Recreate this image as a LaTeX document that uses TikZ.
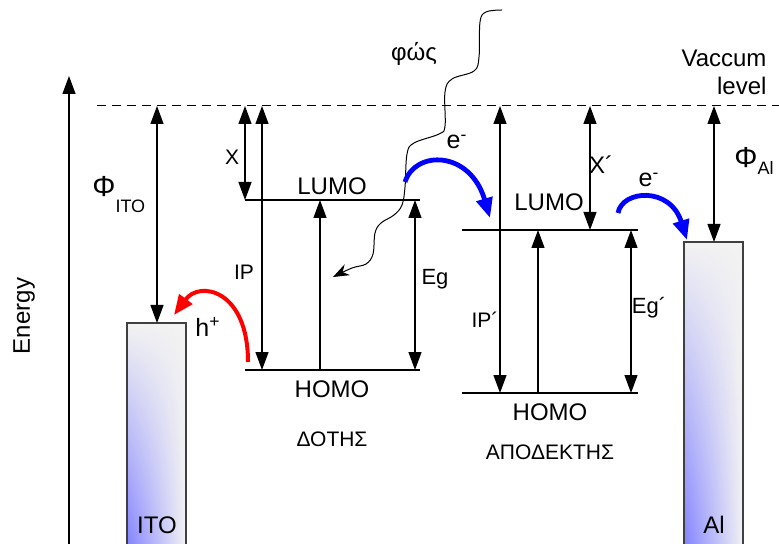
\documentclass[tikz,border=0pt]{standalone}
\usepackage{fontspec}
\setmainfont{Liberation Sans}
\usetikzlibrary{arrows.meta,positioning,shadings}

\begin{document}
\begin{tikzpicture}[
	x=0.5pt, y=-0.5pt,
	>={Triangle[length=9pt,width=6.5pt]},
	lvl/.style={line width=0.6pt, black},
	arr/.style={->, line width=0.6pt, black},
	darr/.style={<->, line width=0.6pt, black},
	vac/.style={dash pattern=on 4.5pt off 3pt, line width=0.5pt},
	metal/.style={draw=black!75, line width=0.6pt,
		lower left=blue!50, upper left=black!5,
		upper right=black!5, lower right=blue!8!black!5},
	txt/.style={inner sep=0pt, font=\fontsize{12}{14}\selectfont},
	sym/.style={inner sep=0pt, font=\fontsize{10.5}{12}\selectfont},
	tag/.style={inner sep=0pt, font=\fontsize{10.5}{12}\selectfont},
	phi/.style={inner sep=0pt, font=\fontsize{14.5}{16}\selectfont},
	charge/.style={inner sep=0pt, font=\fontsize{12.5}{14}\selectfont},
	carrier/.style={-{Triangle[length=10pt,width=8pt]}, line width=2.4pt},
	photon/.style={-{Stealth[length=8pt,width=6pt]}, line width=0.5pt}
	]
	\useasboundingbox (0,0) rectangle (779,544);
	
	%% ─── ENERGY AXIS AND VACUUM LEVEL ────────────────────────────
	\coordinate (ebot) at (69,544);
	\coordinate (etop) at (69,76);
	\draw[arr] (ebot) -- (etop);
	\node[txt, rotate=90] (energy) at (24,316) {Energy};
	
	\coordinate (vacl) at (97,106);
	\coordinate (vacr) at (779,106);
	\draw[vac] (vacl) -- (vacr);
	\node[txt, align=right] (vaclbl) at (724,72) {Vaccum\\level};
	
	%% ─── ITO ELECTRODE ───────────────────────────────────────────
	\shadedraw[metal] (127,323) rectangle (186,552);
	\node[txt] (ito) at (157,525) {ITO};
	\coordinate (vito) at (157,106);
	\coordinate (itotop) at (157,323);
	\draw[darr] (vito) -- (itotop);
	\node[phi, anchor=base west] (phiito) at (92,197)
	{Φ\raisebox{-8pt}{\fontsize{9}{10}\selectfont ITO}};
	
	%% ─── DONOR ───────────────────────────────────────────────────
	\coordinate (dlumo1) at (245,200); \coordinate (dlumo2) at (420,200);
	\coordinate (dhomo1) at (245,370); \coordinate (dhomo2) at (420,370);
	\draw[lvl] (dlumo1) -- (dlumo2);
	\draw[lvl] (dhomo1) -- (dhomo2);
	\node[txt] (dlumo) at (332,186) {LUMO};
	\node[txt] (dhomo) at (332,389) {HOMO};
	\node[tag, below=17pt of dhomo] (donor) {ΔΟΤΗΣ};
	
	\coordinate (vchi) at (245,106);
	\draw[darr] (vchi) -- (dlumo1);
	\node[sym] (chi) at (232,157) {Χ};
	
	\coordinate (vip) at (262,106); \coordinate (dip) at (262,370);
	\draw[darr] (vip) -- (dip);
	\node[tag] (ip) at (244,272) {IP};
	
	\coordinate (dup1) at (320,370); \coordinate (dup2) at (320,200);
	\draw[arr] (dup1) -- (dup2);
	
	\coordinate (deg1) at (415,200); \coordinate (deg2) at (415,370);
	\draw[darr] (deg1) -- (deg2);
	\node[tag, font=\fontsize{11}{12}\selectfont] (eg) at (435,279) {Eg};
	
	%% ─── ACCEPTOR ────────────────────────────────────────────────
	\coordinate (alumo1) at (462,230); \coordinate (alumo2) at (638,230);
	\coordinate (ahomo1) at (462,393); \coordinate (ahomo2) at (638,393);
	\draw[lvl] (alumo1) -- (alumo2);
	\draw[lvl] (ahomo1) -- (ahomo2);
	\node[txt] (alumo) at (549,202) {LUMO};
	\node[txt] (ahomo) at (550,412) {HOMO};
	\node[tag, below=12pt of ahomo] (acceptor) {ΑΠΟΔΕΚΤΗΣ};
	
	\coordinate (vip2) at (500,106); \coordinate (aip) at (500,393);
	\draw[darr] (vip2) -- (aip);
	\node[tag] (ip2) at (485,320) {IP´};
	
	\coordinate (vchi2) at (590,106); \coordinate (achi) at (590,230);
	\draw[darr] (vchi2) -- (achi);
	\node[sym, font=\fontsize{12}{14}\selectfont] (chi2) at (601,165) {Χ´};
	
	\coordinate (aup1) at (538,393); \coordinate (aup2) at (538,230);
	\draw[arr] (aup1) -- (aup2);
	
	\coordinate (aeg1) at (631,230); \coordinate (aeg2) at (631,393);
	\draw[darr] (aeg1) -- (aeg2);
	\node[tag, font=\fontsize{11}{12}\selectfont] (eg2) at (649,308) {Eg´};
	
	%% ─── AL ELECTRODE ────────────────────────────────────────────
	\shadedraw[metal] (684,242) rectangle (743,552);
	\node[txt] (al) at (714,525) {Al};
	\coordinate (val) at (714,106);
	\coordinate (altop) at (714,242);
	\draw[darr] (val) -- (altop);
	\node[phi, anchor=base west] (phial) at (734,168)
	{Φ\raisebox{-3.5pt}{\fontsize{9}{10}\selectfont Al}};
	
	%% ─── LIGHT AND CHARGE TRANSFER ───────────────────────────────
	\node[txt] (light) at (414,54) {φώς};
	\coordinate (ph0) at (502,10);
	\coordinate (ph1) at (333,277);
	\draw[photon] plot[smooth, tension=0.6] coordinates {
		(ph0) (486,12) (480,22) (479,57) (474,71) (452,79) (445,92)
		(445,126) (439,134) (414,143) (407,154) (405,187) (402,205)
		(394,215) (381,223) (375,233) (373,254) (366,264) (352,268) (ph1)};
	
	\coordinate (e1a) at (405,182); \coordinate (e1b) at (490,218);
	\draw[carrier, blue] (e1a) .. controls (415,150) and (470,150) .. (e1b);
	\node[charge] (e1) at (457,142) {e\textsuperscript{-}};
	
	\coordinate (e2a) at (618,213); \coordinate (e2b) at (687,240);
	\draw[carrier, blue] (e2a) .. controls (622,190) and (670,186) .. (e2b);
	\node[charge] (e2) at (649,180) {e\textsuperscript{-}};
	
	\coordinate (h1a) at (248,362); \coordinate (h1b) at (174,315);
	\draw[carrier, red, line width=2pt] (h1a) .. controls (248,290) and (200,280) .. (h1b);
	\node[charge] (h1) at (208,327) {h\textsuperscript{+}};
\end{tikzpicture}
\end{document}
